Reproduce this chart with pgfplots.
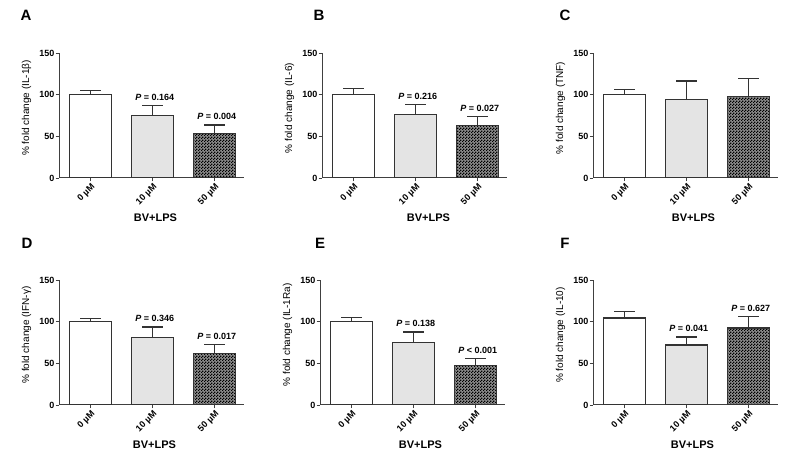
\documentclass[border=0pt]{standalone}
\usepackage{fontspec}
\setmainfont{Liberation Sans}
\usepackage{pgfplots}
\pgfplotsset{compat=1.18}
\usetikzlibrary{patterns}
\pgfdeclarepatternformonly{checker}{\pgfpointorigin}{\pgfqpoint{3pt}{3pt}}{\pgfqpoint{3pt}{3pt}}{%
  \pgfpathrectangle{\pgfpointorigin}{\pgfqpoint{1.5pt}{1.5pt}}%
  \pgfpathrectangle{\pgfqpoint{1.5pt}{1.5pt}}{\pgfqpoint{1.5pt}{1.5pt}}%
  \pgfusepath{fill}}
\definecolor{axcol}{HTML}{404040}
\definecolor{barline}{HTML}{333333}
\definecolor{lgray}{HTML}{E4E4E4}
\pgfplotsset{
 panel/.style={
  scale only axis, width=185pt, height=125pt,
  xmin=-0.51, xmax=2.47, ymin=0, ymax=150,
  axis x line*=bottom, axis y line*=left,
  axis line style={axcol, line width=1pt, -},
  ytick={0,50,100,150}, xtick={0,1,2},
  xticklabels={0 µM,10 µM,50 µM},
  tick align=outside, major tick length=3.5pt,
  tick style={axcol, line width=0.8pt},
  /pgf/number format/assume math mode=true,
  ticklabel style={font=\bfseries\fontsize{9}{10}\selectfont, text=black},
  yticklabel style={inner sep=1pt},
  xticklabel style={rotate=45, anchor=north east, inner sep=1pt},
  ybar, bar width=42pt, bar shift=0pt,
  xlabel={BV+LPS},
  xlabel style={font=\bfseries\fontsize{11}{12}\selectfont, at={(axis description cs:0.5,0)}, anchor=center, yshift=-40pt},
  ylabel style={font=\fontsize{10}{11}\selectfont, at={(axis description cs:-0.175,0.56)}, anchor=center},
 },
 bars/.style={draw=barline, line width=1.2pt,
  error bars/y dir=plus, error bars/y explicit,
  error bars/error bar style={barline, line width=1.2pt},
  error bars/error mark options={rotate=90, mark size=10.5pt, line width=1.2pt, barline}},
 b1/.style={bars, fill=white},
 b2/.style={bars, fill=lgray},
 b3/.style={bars, fill=black!45, postaction={pattern=checker, pattern color=black}},
}
\tikzset{plabel/.style={font=\bfseries\fontsize{9}{10}\selectfont, anchor=south, inner sep=0pt, yshift=5pt, xshift=2pt},
 letter/.style={font=\bfseries\fontsize{15}{18}\selectfont}}
\newcommand{\Pv}[1]{{\itshape P} #1}
\begin{document}
\begin{tikzpicture}
\useasboundingbox (0,0) rectangle (800pt,457pt);
% ---------- A ----------
\begin{axis}[panel, at={(59pt,279pt)}, anchor=south west, ylabel={\% fold change (IL-1β)}, xlabel style={xshift=4pt}]
\addplot[b1] coordinates {(0,100) +- (0,4.8)};
\addplot[b2] coordinates {(1,75) +- (0,12)};
\addplot[b3] coordinates {(2,53.5) +- (0,10)};
\node[plabel] at (axis cs:1,87) {\Pv{= 0.164}};
\node[plabel] at (axis cs:2,63.5) {\Pv{= 0.004}};
\end{axis}
% ---------- B ----------
\begin{axis}[panel, at={(322pt,279pt)}, anchor=south west, ylabel={\% fold change (IL-6)}, xlabel style={xshift=14pt}]
\addplot[b1] coordinates {(0,100) +- (0,7)};
\addplot[b2] coordinates {(1,76.5) +- (0,11.5)};
\addplot[b3] coordinates {(2,63) +- (0,10.5)};
\node[plabel] at (axis cs:1,88) {\Pv{= 0.216}};
\node[plabel] at (axis cs:2,73.5) {\Pv{= 0.027}};
\end{axis}
% ---------- C ----------
\begin{axis}[panel, at={(593pt,279pt)}, anchor=south west, ylabel={\% fold change (TNF)}, xlabel style={xshift=8pt}]
\addplot[b1] coordinates {(0,100) +- (0,6.5)};
\addplot[b2] coordinates {(1,94.5) +- (0,22)};
\addplot[b3] coordinates {(2,97.5) +- (0,21.5)};
\end{axis}
% ---------- D ----------
\begin{axis}[panel, at={(59pt,52pt)}, anchor=south west, ylabel={\% fold change (IFN-γ)}, xlabel style={xshift=3pt}]
\addplot[b1] coordinates {(0,100) +- (0,4)};
\addplot[b2] coordinates {(1,81) +- (0,12.5)};
\addplot[b3] coordinates {(2,62) +- (0,10.5)};
\node[plabel] at (axis cs:1,93.5) {\Pv{= 0.346}};
\node[plabel] at (axis cs:2,72.5) {\Pv{= 0.017}};
\end{axis}
% ---------- E ----------
\begin{axis}[panel, at={(320pt,52pt)}, anchor=south west, ylabel={\% fold change (IL-1Ra)}, xlabel style={xshift=8pt}]
\addplot[b1] coordinates {(0,100) +- (0,5)};
\addplot[b2] coordinates {(1,75) +- (0,12.5)};
\addplot[b3] coordinates {(2,47) +- (0,8.5)};
\node[plabel] at (axis cs:1,87.5) {\Pv{= 0.138}};
\node[plabel] at (axis cs:2,55.5) {\Pv{< 0.001}};
\end{axis}
% ---------- F ----------
\begin{axis}[panel, at={(593pt,52pt)}, anchor=south west, ylabel={\% fold change (IL-10)}, xlabel style={xshift=7pt}]
\addplot[b1] coordinates {(0,104.5) +- (0,7.5)};
\addplot[b2] coordinates {(1,72) +- (0,9.5)};
\addplot[b3] coordinates {(2,92.5) +- (0,13.5)};
\node[plabel] at (axis cs:1,81.5) {\Pv{= 0.041}};
\node[plabel] at (axis cs:2,106) {\Pv{= 0.627}};
\end{axis}
% panel letters
\node[letter] at (26pt,442pt) {A};
\node[letter] at (319pt,442pt) {B};
\node[letter] at (565pt,442pt) {C};
\node[letter] at (27pt,214pt) {D};
\node[letter] at (320pt,214pt) {E};
\node[letter] at (565pt,214pt) {F};
\end{tikzpicture}
\end{document}
